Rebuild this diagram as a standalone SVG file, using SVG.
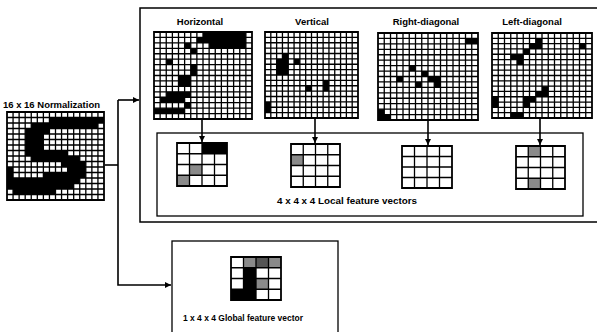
<svg xmlns="http://www.w3.org/2000/svg" xmlns:xlink="http://www.w3.org/1999/xlink" width="597" height="332" viewBox="0 0 597 332">
<style>
.box{fill:none;stroke:#000;stroke-width:1.5}
.lbl{font-family:"Liberation Sans",Arial,sans-serif;font-weight:bold;font-size:9.5px;fill:#000}
.conn{fill:none;stroke:#000;stroke-width:1.6}
.gl{fill:none;stroke:#000;stroke-width:1.3;vector-effect:non-scaling-stroke}
.gb{fill:none;stroke:#000;stroke-width:1.8;vector-effect:non-scaling-stroke}
.bg{fill:#fff}
.blk{fill:#000}
.gry{fill:#8a8a8a}
.dgy{fill:#555}
</style>
<defs>
<g id="g16">
<path class="gl" d="M1 0V16M2 0V16M3 0V16M4 0V16M5 0V16M6 0V16M7 0V16M8 0V16M9 0V16M10 0V16M11 0V16M12 0V16M13 0V16M14 0V16M15 0V16M0 1H16M0 2H16M0 3H16M0 4H16M0 5H16M0 6H16M0 7H16M0 8H16M0 9H16M0 10H16M0 11H16M0 12H16M0 13H16M0 14H16M0 15H16"/>
<rect class="gb" x="0" y="0" width="16" height="16"/>
</g>
<g id="g4">
<path class="gl" d="M1 0V4M2 0V4M3 0V4M0 1H4M0 2H4M0 3H4"/>
<rect class="gb" x="0" y="0" width="4" height="4"/>
</g>
<marker id="ah" viewBox="0 0 8 8" refX="8" refY="4" markerWidth="6" markerHeight="6" markerUnits="userSpaceOnUse" orient="auto">
<path d="M0 0L8 4L0 8z" fill="#000"/>
</marker>
</defs>

<g id="normalization">
<text class="lbl" x="3" y="108" textLength="97" lengthAdjust="spacingAndGlyphs">16 x 16 Normalization</text>
<g transform="translate(7,112) scale(6.0625,5.5)">
<rect class="bg" width="16" height="16"/>
<path class="blk" d="M7 1h9v1h-9zM4 2h11v1h-11zM3 3h4v1h-4zM3 4h3v3h-3zM3 7h7v1h-7zM4 8h8v1h-8zM9 9h4v1h-4zM0 10h1v1h-1zM10 10h3v1h-3zM0 11h1v1h-1zM6 11h7v1h-7zM0 12h12v1h-12zM0 13h11v1h-11zM1 14h7v1h-7z"/>
<use href="#g16"/>
</g>
</g>

<g id="local-box">
<rect class="box" x="140" y="8" width="470" height="214"/>
</g>

<g id="horizontal">
<text class="lbl" x="200" y="25" text-anchor="middle">Horizontal</text>
<g transform="translate(154,32) scale(6.125,5.4375)">
<rect class="bg" width="16" height="16"/>
<path class="blk" d="M8 0h7v1h-7zM7 1h8v1h-8zM5 2h1v1h-1zM9 2h6v1h-6zM6 3h1v1h-1zM2 5h1v1h-1zM6 6h1v2h-1zM4 8h2v2h-2zM2 11h4v1h-4zM1 12h4v1h-4zM5 13h1v1h-1zM0 14h5v1h-5z"/>
<use href="#g16"/>
</g>
</g>

<g id="vertical">
<text class="lbl" x="312" y="25" text-anchor="middle">Vertical</text>
<g transform="translate(265,32) scale(5.8125,5.375)">
<rect class="bg" width="16" height="16"/>
<path class="blk" d="M3 4h1v1h-1zM2 5h2v3h-2zM5 5h1v1h-1zM7 10h1v1h-1zM10 9h1v2h-1zM0 13h1v2h-1z"/>
<use href="#g16"/>
</g>
</g>

<g id="right-diagonal">
<text class="lbl" x="426" y="25" text-anchor="middle">Right-diagonal</text>
<g transform="translate(378,33) scale(6.25,5.4375)">
<rect class="bg" width="16" height="16"/>
<path class="blk" d="M14 1h2v1h-2zM5 6h1v1h-1zM7 7h1v1h-1zM3 8h1v1h-1zM8 8h2v1h-2zM6 9h1v1h-1zM9 9h1v1h-1zM0 14h1v1h-1zM0 15h2v1h-2z"/>
<use href="#g16"/>
</g>
</g>

<g id="left-diagonal">
<text class="lbl" x="532" y="25" text-anchor="middle">Left-diagonal</text>
<g transform="translate(492,33) scale(6.25,5.3125)">
<rect class="bg" width="16" height="16"/>
<path class="blk" d="M7 1h1v1h-1zM6 2h2v1h-2zM14 2h1v1h-1zM5 3h1v1h-1zM3 4h2v1h-2zM4 5h1v1h-1zM8 10h1v1h-1zM7 11h2v1h-2zM5 12h2v1h-2zM5 13h1v1h-1zM0 12h1v2h-1zM3 15h2v1h-2z"/>
<use href="#g16"/>
</g>
</g>

<g id="local-vectors">
<rect class="box" x="157" y="133" width="426" height="83" style="stroke-width:1.3"/>
<g transform="translate(177,143) scale(12.5,10.75)">
<rect class="bg" width="4" height="4"/>
<path class="blk" d="M2 0h2v1h-2z"/>
<path class="gry" d="M1 2h1v1h-1zM0 3h1v1h-1z"/>
<use href="#g4"/>
</g>
<g transform="translate(291,144) scale(12.25,10.75)">
<rect class="bg" width="4" height="4"/>
<path class="gry" d="M0 1h1v1h-1z"/>
<use href="#g4"/>
</g>
<g transform="translate(402,146) scale(12.5,10.5)">
<rect class="bg" width="4" height="4"/>
<use href="#g4"/>
</g>
<g transform="translate(516,146) scale(12.25,10.75)">
<rect class="bg" width="4" height="4"/>
<path class="gry" d="M1 0h1v1h-1zM1 3h1v1h-1z"/>
<use href="#g4"/>
</g>
<text class="lbl" x="277" y="204" textLength="140" lengthAdjust="spacingAndGlyphs">4 x 4 x 4 Local feature vectors</text>
</g>

<g id="global-vector">
<rect class="box" x="172" y="241" width="166" height="100" style="stroke-width:1.3"/>
<g transform="translate(231,257) scale(12.5,10.75)">
<rect class="bg" width="4" height="4"/>
<path class="blk" d="M1 1h1v2h-1zM0 3h2v1h-2z"/>
<path class="gry" d="M1 0h1v1h-1zM3 0h1v1h-1zM2 2h1v1h-1z"/>
<path class="dgy" d="M2 0h1v1h-1z"/>
<use href="#g4"/>
</g>
<text class="lbl" x="183" y="321" textLength="120" lengthAdjust="spacingAndGlyphs">1 x 4 x 4 Global feature vector</text>
</g>

<g id="connectors">
<path class="conn" d="M105 165H118"/>
<path class="conn" d="M118 100V285H171" marker-end="url(#ah)"/>
<path class="conn" d="M118 100H139" marker-end="url(#ah)"/>
<path class="conn" d="M202 119V142" marker-end="url(#ah)"/>
<path class="conn" d="M315 118V143" marker-end="url(#ah)"/>
<path class="conn" d="M428 120V145" marker-end="url(#ah)"/>
<path class="conn" d="M540 118V145" marker-end="url(#ah)"/>
</g>
</svg>
